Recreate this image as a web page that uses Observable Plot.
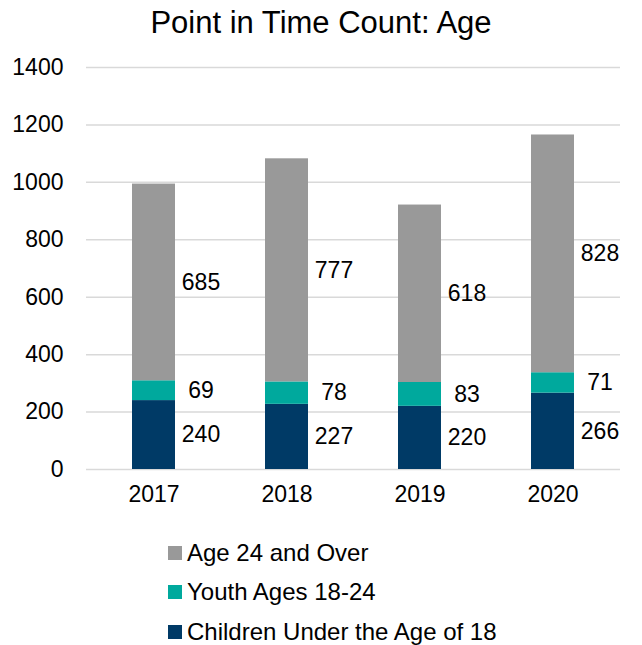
<!DOCTYPE html>
<html><head><meta charset="utf-8">
<script src="https://cdn.jsdelivr.net/npm/d3@7"></script>
<script src="https://cdn.jsdelivr.net/npm/@observablehq/plot@0.6"></script>
<style>
body{margin:0;background:#fff;font-family:Arial,"Liberation Sans",sans-serif;}
#title{height:46px;line-height:46px;text-align:center;font-size:31px;color:#000;}
#chart svg{display:block;}
#legend{margin-left:168px;margin-top:7px;}
.row{display:flex;align-items:center;height:39.5px;font-size:24px;color:#000;}
.sw{width:14px;height:14px;margin-right:5px;}
</style></head>
<body>
<div id="title">Point in Time Count: Age</div>
<div id="chart"></div>
<div id="legend"></div>
<script>
const years = ["2017","2018","2019","2020"];
const series = ["Children Under the Age of 18","Youth Ages 18-24","Age 24 and Over"];
const children = [240,227,220,266];
const youth = [69,78,83,71];
const adults = [685,777,618,828];
const colors = ["#003a66","#00a99d","#999999"];
const yTicks = [0,200,400,600,800,1000,1200,1400];

const values = [children, youth, adults];
const data = [];
years.forEach((yr,i)=>series.forEach((s,j)=>data.push({year:yr, series:s, value:values[j][i], order:j})));

const chart = Plot.plot({
  width:642, height:480,
  marginTop:21, marginBottom:57, marginLeft:86, marginRight:22,
  style:{fontFamily:'Arial,"Liberation Sans",sans-serif', fontSize:"23px", color:"#000", background:"#fff"},
  x:{domain:years, paddingInner:0.68, paddingOuter:0.34, label:null, tickSize:0, tickPadding:16},
  y:{domain:[0,1400], ticks:yTicks, label:null, tickSize:0, tickPadding:23, tickFormat:d=>String(d)},
  color:{domain:series, range:colors},
  marks:[
    Plot.gridY(yTicks,{stroke:"#d9d9d9", strokeOpacity:1, strokeWidth:1.5}),
    Plot.barY(data, Plot.stackY({x:"year", y:"value", fill:"series", order:series})),
    Plot.text(data, Plot.stackY({x:"year", y:"value", z:"series", order:series, text:d=>String(d.value), dx:47, fontSize:23, fill:"#000"}))
  ]
});
document.getElementById("chart").appendChild(chart);

const leg = document.getElementById("legend");
[2,1,0].forEach(j=>{
  const r = document.createElement("div"); r.className="row";
  r.innerHTML = `<div class="sw" style="background:${colors[j]}"></div><span>${series[j]}</span>`;
  leg.appendChild(r);
});
</script>
</body></html>
